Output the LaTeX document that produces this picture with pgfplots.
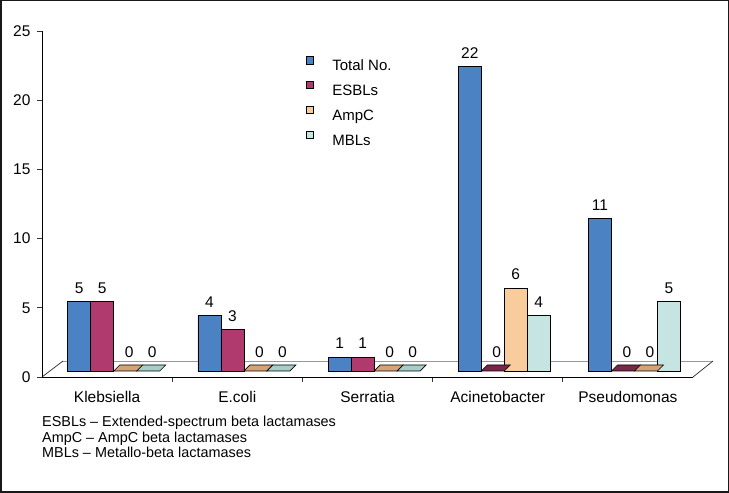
\documentclass[border=0pt]{standalone}
\usepackage{fontspec}
\setmainfont{Liberation Sans}
\usepackage{pgfplots}
\pgfplotsset{compat=1.18}
\definecolor{cTot}{RGB}{74,130,196}
\definecolor{cEsb}{RGB}{176,58,110}
\definecolor{cAmp}{RGB}{249,204,155}
\definecolor{cMbl}{RGB}{198,228,225}
\definecolor{cEsbZ}{RGB}{122,38,74}
\definecolor{cAmpZ}{RGB}{214,163,118}
\definecolor{cMblZ}{RGB}{165,205,202}
\newcommand\fA{\fontsize{15.5}{18}\selectfont}
\newcommand\fL{\fontsize{15}{18}\selectfont}
\newcommand\fN{\fontsize{14.4}{16}\selectfont}
\pgfdeclareplotmark{flatbar}{%
  \pgfpathmoveto{\pgfpoint{-11.5pt}{0pt}}%
  \pgfpathlineto{\pgfpoint{11.5pt}{0pt}}%
  \pgfpathlineto{\pgfpoint{17.5pt}{6pt}}%
  \pgfpathlineto{\pgfpoint{-5.5pt}{6pt}}%
  \pgfpathclose
  \pgfusepathqfillstroke}
\pgfplotsset{
  legsq/.style={legend image code/.code={%
      \draw[fill=#1,draw=black,line width=0.6pt] (0pt,-3.4pt) rectangle (7.4pt,4pt);
      \path (25pt,0pt);}},
  mybar/.style={ybar, bar width=0.1767, bar shift=#1, draw=black, line width=0.7pt, xshift=6.6pt, yshift=6pt},
  % value labels of the non-zero bars (x = category + bar shift)
  barlab/.style={draw=none, mark=none, forget plot, xshift=6.6pt, yshift=6pt,
    nodes near coords, every node near coord/.append style={font=\fA, text=black, anchor=south, inner sep=0pt, yshift=8pt}},
  myzero/.style={only marks, mark=flatbar, mark options={fill=#1, draw=black, line width=0.6pt}, xshift=6.6pt, yshift=6pt, forget plot,
    nodes near coords, every node near coord/.append style={font=\fA, text=black, anchor=south, inner sep=0pt, yshift=12.8pt, xshift=4pt}},
}
\begin{document}
\begin{tikzpicture}[x=1pt,y=1pt]
\useasboundingbox (0,0) rectangle (729,493);
% floor of the 3D chart
\draw[gray!80, line width=0.8pt] (63,132) -- (713,132);
\draw[black!85, line width=0.7pt] (42,116) -- (63,132);
\draw[black!85, line width=0.7pt] (693,116) -- (713,132);
\begin{axis}[
  at={(42pt,116pt)}, anchor=south west,
  scale only axis, width=651pt, height=346pt,
  xmin=-0.5, xmax=4.5, ymin=0, ymax=25,
  clip=false,
  axis lines=left, axis line style={-, black, line width=0.9pt},
  ytick={0,5,10,15,20,25},
  tick align=outside, major tick length=5pt,
  tick style={black!80, line width=0.6pt},
  xtick={0.5,1.5,2.5,3.5}, xticklabels={},
  extra x ticks={0,1,2,3,4},
  extra x tick labels={Klebsiella,E.coli,Serratia,Acinetobacter,Pseudomonas},
  extra x tick style={major tick length=0pt, tick label style={yshift=-10.5pt}},
  /pgf/number format/assume math mode=true,
  ticklabel style={font=\fA, text=black},
  yticklabel style={xshift=-3pt},
  legend style={at={(0.4048,0.928)}, anchor=north west, draw=none, fill=none,
    font=\fL, inner sep=0pt, row sep=6.6pt,
    nodes={inner sep=1pt, text height=11pt, text depth=3pt}},
  legend cell align=left,
]
\addplot[mybar=-0.265, fill=cTot, legsq=cTot] coordinates {(0,5) (1,4) (2,1) (3,22) (4,11)};
\addlegendentry{Total No.}
\addplot[mybar=-0.0883, fill=cEsb, legsq=cEsb] coordinates {(0,5) (1,3) (2,1)};
\addlegendentry{ESBLs}
\addplot[mybar=0.0883, fill=cAmp, legsq=cAmp] coordinates {(3,6)};
\addlegendentry{AmpC}
\addplot[mybar=0.265, fill=cMbl, legsq=cMbl] coordinates {(3,4) (4,5)};
\addlegendentry{MBLs}
% value labels
\addplot[barlab] coordinates {(-0.265,5) (0.735,4) (1.735,1) (2.735,22) (3.735,11)};
\addplot[barlab] coordinates {(-0.0883,5) (0.9117,3) (1.9117,1)};
\addplot[barlab] coordinates {(3.0883,6)};
\addplot[barlab] coordinates {(3.265,4) (4.265,5)};
% zero-valued bars, drawn as flat tops
\addplot[myzero=cEsbZ] coordinates {(2.9117,0) (3.9117,0)};
\addplot[myzero=cAmpZ] coordinates {(0.0883,0) (1.0883,0) (2.0883,0) (4.0883,0)};
\addplot[myzero=cMblZ] coordinates {(0.265,0) (1.265,0) (2.265,0)};
\end{axis}
\node[anchor=base west, font=\fN, inner sep=0pt] at (42,66.3) {ESBLs – Extended-spectrum beta lactamases};
\node[anchor=base west, font=\fN, inner sep=0pt] at (42,50.5) {AmpC – AmpC beta lactamases};
\node[anchor=base west, font=\fN, inner sep=0pt] at (42,35) {MBLs – Metallo-beta lactamases};
\draw[black!90, line width=1.5pt] (0.75,0.75) rectangle (728.25,492.25);
\end{tikzpicture}
\end{document}
